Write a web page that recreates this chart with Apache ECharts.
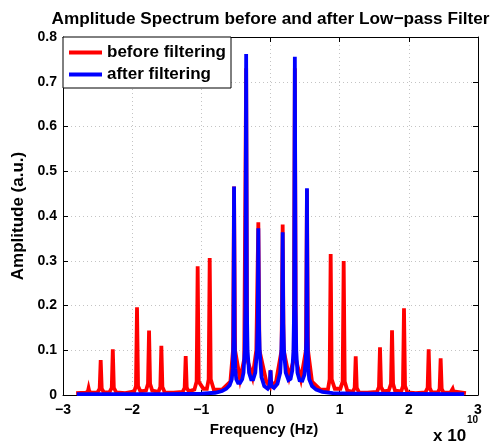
<!DOCTYPE html>
<html>
<head>
<meta charset="utf-8">
<script src="https://cdn.jsdelivr.net/npm/echarts@6/dist/echarts.min.js"></script>
<style>
  html, body { margin: 0; padding: 0; background: #fff; }
  #chart { width: 494px; height: 445px; }
</style>
</head>
<body>
<div id="chart"></div>
<script>
// frequency in units of 1e10 Hz, amplitude in a.u.
var seriesNames = ["before filtering", "after filtering"];
var xTicks = [-3, -2, -1, 0, 1, 2, 3];
var yTicks = [0, 0.1, 0.2, 0.3, 0.4, 0.5, 0.6, 0.7, 0.8];

var beforePts = [
  [-2.81, 0.004], [-2.67, 0.005], [-2.64, 0.008], [-2.63, 0.015], [-2.62, 0.008], [-2.59, 0.005],
  [-2.50, 0.006], [-2.47, 0.014], [-2.455, 0.078], [-2.44, 0.014], [-2.41, 0.006],
  [-2.33, 0.006], [-2.295, 0.016], [-2.28, 0.102], [-2.265, 0.016], [-2.23, 0.006],
  [-2.10, 0.004], [-1.97, 0.008], [-1.945, 0.02], [-1.93, 0.196], [-1.915, 0.02], [-1.88, 0.008],
  [-1.80, 0.01], [-1.771, 0.025], [-1.756, 0.144], [-1.741, 0.025], [-1.71, 0.01],
  [-1.62, 0.007], [-1.593, 0.018], [-1.578, 0.110], [-1.563, 0.018], [-1.53, 0.006],
  [-1.40, 0.005], [-1.27, 0.007], [-1.241, 0.016], [-1.226, 0.087], [-1.211, 0.016], [-1.18, 0.008],
  [-1.10, 0.012], [-1.068, 0.03], [-1.053, 0.2875], [-1.038, 0.03], [-0.97, 0.014],
  [-0.92, 0.014], [-0.894, 0.035], [-0.879, 0.306], [-0.864, 0.035], [-0.82, 0.012],
  [-0.70, 0.012], [-0.58, 0.03], [-0.542, 0.1], [-0.527, 0.466], [-0.512, 0.1], [-0.44, 0.035],
  [-0.38, 0.08], [-0.352, 0.73], [-0.337, 0.08], [-0.26, 0.04],
  [-0.205, 0.1], [-0.176, 0.386], [-0.16, 0.1], [-0.06, 0.03],
  [-0.012, 0.02], [0, 0.055], [0.012, 0.02], [0.08, 0.03],
  [0.16, 0.1], [0.176, 0.381], [0.19, 0.1], [0.27, 0.04],
  [0.337, 0.08], [0.352, 0.73], [0.367, 0.08], [0.44, 0.035],
  [0.512, 0.1], [0.527, 0.46], [0.542, 0.1], [0.60, 0.03],
  [0.72, 0.012], [0.83, 0.012], [0.855, 0.035], [0.87, 0.315], [0.885, 0.035], [0.93, 0.014],
  [1.01, 0.014], [1.043, 0.03], [1.058, 0.2995], [1.073, 0.03], [1.11, 0.01],
  [1.19, 0.007], [1.217, 0.016], [1.232, 0.0864], [1.247, 0.016], [1.28, 0.006],
  [1.40, 0.005], [1.54, 0.007], [1.568, 0.018], [1.583, 0.1065], [1.598, 0.018], [1.63, 0.008],
  [1.71, 0.01], [1.742, 0.025], [1.757, 0.1445], [1.772, 0.025], [1.80, 0.01],
  [1.89, 0.008], [1.915, 0.02], [1.93, 0.1936], [1.945, 0.02], [1.98, 0.006],
  [2.10, 0.004], [2.24, 0.006], [2.272, 0.016], [2.287, 0.102], [2.302, 0.016], [2.33, 0.006],
  [2.42, 0.006], [2.445, 0.014], [2.46, 0.082], [2.475, 0.014], [2.50, 0.006],
  [2.60, 0.005], [2.625, 0.008], [2.634, 0.014], [2.645, 0.008], [2.67, 0.005], [2.826, 0.004]
];

var afterPts = [
  [-2.8, 0.002], [-1.5, 0.002], [-1.0, 0.003], [-0.8, 0.005], [-0.7, 0.009], [-0.64, 0.014],
  [-0.59, 0.022], [-0.56, 0.035], [-0.545, 0.06], [-0.535, 0.13], [-0.527, 0.466], [-0.519, 0.13],
  [-0.51, 0.06], [-0.495, 0.035], [-0.47, 0.027], [-0.44, 0.027], [-0.41, 0.035], [-0.39, 0.05],
  [-0.372, 0.1], [-0.362, 0.2], [-0.352, 0.762], [-0.342, 0.2], [-0.332, 0.1], [-0.31, 0.05],
  [-0.28, 0.035], [-0.25, 0.035], [-0.22, 0.05], [-0.195, 0.1], [-0.185, 0.16], [-0.176, 0.3725],
  [-0.167, 0.16], [-0.157, 0.1], [-0.13, 0.04], [-0.09, 0.02], [-0.04, 0.014], [-0.015, 0.02],
  [-0.006, 0.035], [0, 0.055], [0.006, 0.035], [0.015, 0.02], [0.05, 0.016], [0.1, 0.025],
  [0.14, 0.05], [0.158, 0.1], [0.167, 0.16], [0.176, 0.3636], [0.185, 0.16], [0.195, 0.1],
  [0.22, 0.05], [0.26, 0.033], [0.29, 0.036], [0.315, 0.055], [0.332, 0.1], [0.342, 0.2],
  [0.352, 0.756], [0.362, 0.2], [0.372, 0.1], [0.39, 0.05], [0.42, 0.033], [0.46, 0.032],
  [0.49, 0.045], [0.51, 0.08], [0.519, 0.13], [0.527, 0.462], [0.535, 0.13], [0.545, 0.06],
  [0.56, 0.035], [0.6, 0.02], [0.66, 0.012], [0.75, 0.007], [0.9, 0.004], [1.2, 0.003], [2.8, 0.002]
];

var font = "Liberation Sans";
var labelStyle = { color: "#000", fontFamily: font, fontWeight: "bold", fontSize: 14 };
var gridLine = { show: true, lineStyle: { color: "#c4c4c4", type: [1, 3], width: 1 } };
var boxLine = { show: true, onZero: false, lineStyle: { color: "#000", width: 1 } };
var inTick = { show: true, inside: true, length: 5, lineStyle: { color: "#000" } };

var chart = echarts.init(document.getElementById("chart"));
chart.setOption({
  animation: false,
  backgroundColor: "#fff",
  title: {
    text: "Amplitude Spectrum before and after Low\u2212pass Filter",
    left: 265.5, top: 6, textAlign: "center",
    textStyle: { color: "#000", fontFamily: font, fontWeight: "bold", fontSize: 17.2 }
  },
  grid: { left: 63, right: 16, top: 37, bottom: 50 },
  legend: {
    orient: "vertical", left: 63, top: 37,
    data: seriesNames,
    icon: "rect", itemWidth: 33, itemHeight: 4, itemGap: 5,
    padding: [7, 5, 5, 6],
    borderColor: "#000", borderWidth: 1, backgroundColor: "#fff", borderRadius: 0,
    textStyle: { color: "#000", fontFamily: font, fontWeight: "bold", fontSize: 17, lineHeight: 17 }
  },
  xAxis: [{
    type: "value", min: xTicks[0], max: xTicks[xTicks.length - 1], interval: 1,
    axisLine: boxLine, axisTick: inTick,
    axisLabel: Object.assign({ margin: 8, formatter: function (v) { return String(v).replace("-", "\u2212"); } }, labelStyle),
    splitLine: gridLine,
    name: "Frequency (Hz)", nameLocation: "middle", nameGap: 24,
    nameTextStyle: { color: "#000", fontFamily: font, fontWeight: "bold", fontSize: 15, padding: [0, 13, 0, 0] }
  }, {
    type: "value", position: "top", min: xTicks[0], max: xTicks[xTicks.length - 1], interval: 1,
    axisLine: boxLine, axisTick: inTick,
    axisLabel: { show: false }, splitLine: { show: false }
  }],
  yAxis: [{
    type: "value", min: yTicks[0], max: yTicks[yTicks.length - 1], interval: 0.1,
    axisLine: boxLine, axisTick: inTick,
    axisLabel: Object.assign({ margin: 6, formatter: function (v) { return v === 0 ? "0" : v.toFixed(1); } }, labelStyle),
    splitLine: gridLine,
    name: "Amplitude (a.u.)", nameLocation: "middle", nameGap: 26,
    nameTextStyle: { color: "#000", fontFamily: font, fontWeight: "bold", fontSize: 17 }
  }, {
    type: "value", position: "right", min: yTicks[0], max: yTicks[yTicks.length - 1], interval: 0.1,
    axisLine: boxLine, axisTick: inTick,
    axisLabel: { show: false }, splitLine: { show: false }
  }],
  graphic: [{
    type: "text", left: 433, top: 428,
    style: { text: "x 10", fontFamily: font, fontWeight: "bold", fontSize: 17, fill: "#000" }
  }, {
    type: "text", left: 467, top: 415,
    style: { text: "10", fontFamily: font, fontWeight: "bold", fontSize: 10, fill: "#000" }
  }],
  series: [{
    name: seriesNames[0], type: "line", data: beforePts,
    showSymbol: false, color: "#ff0000",
    lineStyle: { color: "#ff0000", width: 3.8, join: "miter" }
  }, {
    name: seriesNames[1], type: "line", data: afterPts,
    showSymbol: false, color: "#0000ff",
    lineStyle: { color: "#0000ff", width: 3.8, join: "miter" }
  }]
});
</script>
</body>
</html>
